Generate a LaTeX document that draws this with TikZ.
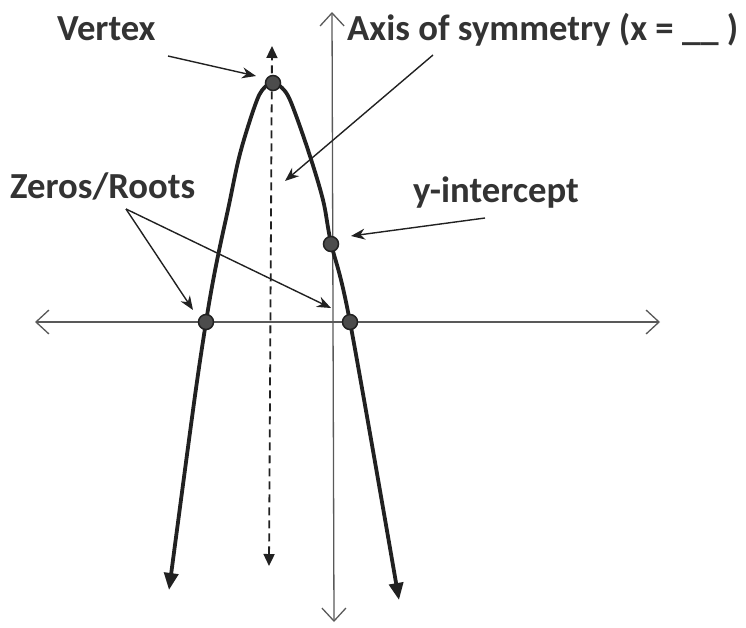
\documentclass[tikz,border=0pt]{standalone}
\usepackage{fontspec}
\setmainfont{Carlito}
\usetikzlibrary{arrows.meta}
\definecolor{inkgray}{rgb}{0.13,0.13,0.13}
\definecolor{axisgray}{rgb}{0.35,0.35,0.35}
\definecolor{textgray}{rgb}{0.2,0.2,0.2}
\tikzset{
  etiqueta/.style={
    anchor=base west,
    inner sep=0pt,
    text=textgray,
    font=\fontsize{36.7}{44}\selectfont\bfseries
  },
  punto/.style={
    circle,
    draw=inkgray,
    line width=1.5pt,
    fill=black!70,
    minimum size=15pt,
    inner sep=0pt
  },
  eje/.style={
    {Straight Barb[length=13pt,width=24pt,line width=1.3pt]}-{Straight Barb[length=13pt,width=24pt,line width=1.3pt]},
    line width=1.3pt,
    axisgray
  },
  curva/.style={
    {Triangle[length=17pt,width=14pt]}-{Triangle[length=17pt,width=14pt]},
    line width=3.8pt,
    inkgray
  },
  simetria/.style={
    {Triangle[length=12pt,width=11pt]}-{Triangle[length=12pt,width=11pt]},
    line width=1.8pt,
    dash pattern=on 8pt off 5pt,
    inkgray
  },
  arrow/.style={
    -{Stealth[length=14pt,width=11pt]},
    line width=1.4pt,
    inkgray
  }
}

\begin{document}
\begin{tikzpicture}[x=1pt,y=-1pt]
\useasboundingbox (0,0) rectangle (746,627);

% axes
\coordinate (xl) at (35,322);
\coordinate (xr) at (660,322);
\coordinate (yt) at (332,12);
\coordinate (yb) at (334,622);
\draw[eje] (xl) -- (xr);
\draw[eje] (yb) -- (yt);

% axis of symmetry
\coordinate (st) at (272,46);
\coordinate (sb) at (269,566);
\draw[simetria] (sb) -- (st);

% parabola
\draw[curva] plot[smooth,tension=0.55] coordinates {
  (169,590) (206,322) (230,200) (241,150) (257,100) (266,86) (273,82)
  (280,86) (290,100) (308,150) (323,200) (331,243) (350,322) (399,600)};

% points
\node[punto] (vertice) at (273,83) {};
\node[punto] (raiz1) at (206,322) {};
\node[punto] (raiz2) at (350,322) {};
\node[punto] (corte) at (331,244) {};

% labels
\node[etiqueta] (lvertex) at (57,40) {Vertex};
\node[etiqueta] (laxis) at (347,40) {Axis of symmetry (x = \_\_ )};
\node[etiqueta] (lzeros) at (10,198) {Zeros/Roots};
\node[etiqueta] (lyint) at (413,202) {y-intercept};

% pointers
\coordinate (pv) at (168,56);
\coordinate (tv) at (256,76);
\coordinate (pa) at (433,55);
\coordinate (ta) at (285,181);
\coordinate (pz) at (126,209);
\coordinate (tz1) at (193,310);
\coordinate (tz2) at (331,308);
\coordinate (py) at (485,218);
\coordinate (ty) at (351,236);
\draw[arrow] (pv) -- (tv);
\draw[arrow] (pa) -- (ta);
\draw[arrow] (pz) -- (tz1);
\draw[arrow] (pz) -- (tz2);
\draw[arrow] (py) -- (ty);
\end{tikzpicture}
\end{document}
